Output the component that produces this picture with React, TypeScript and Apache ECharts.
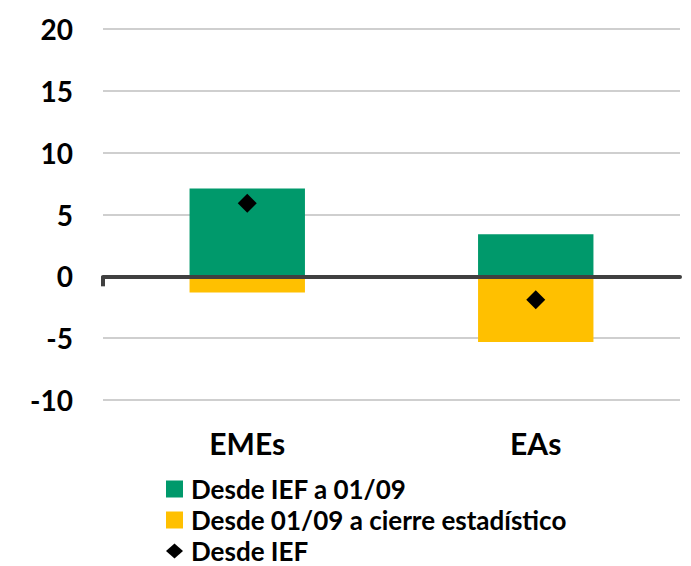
import React, { useEffect, useRef } from "react";
import * as echarts from "echarts";

const categories = ["EMEs", "EAs"];
const sinceIEFto0109 = [7.1, 3.4];
const since0109toClose = [-1.3, -5.3];
const sinceIEF = [5.9, -1.9];
const yTicks = { min: -10, max: 20, interval: 5 };
const legendNames = ["Desde IEF a 01/09", "Desde 01/09 a cierre estadístico", "Desde IEF"];

const FONT = "Lato, 'Open Sans', sans-serif";
const legendText = { color: "#000", fontWeight: "bold", fontSize: 26, fontFamily: FONT, padding: [0, 0, 0, 3] };
const GRID_LEFT = 103;

export default function App() {
  const ref = useRef<HTMLDivElement>(null);
  useEffect(() => {
    if (!ref.current) return;
    const chart = echarts.init(ref.current, null, { renderer: "svg" });
    chart.setOption({
      animation: false,
      textStyle: { fontFamily: FONT },
      grid: { left: GRID_LEFT, right: 11, top: 29, bottom: 166 },
      xAxis: [
        {
          type: "category",
          data: categories,
          position: "bottom",
          axisLine: { show: false, onZero: false },
          axisTick: { show: false },
          axisLabel: {
            color: "#000",
            fontWeight: "bold",
            fontSize: 30,
            fontFamily: FONT,
            margin: 28,
          },
        },
        {
          type: "category",
          data: categories,
          position: "bottom",
          axisLine: { show: true, onZero: true, lineStyle: { color: "#404040", width: 4 } },
          axisTick: { show: false },
          axisLabel: { show: false },
          z: 10,
        },
      ],
      yAxis: {
        type: "value",
        min: yTicks.min,
        max: yTicks.max,
        interval: yTicks.interval,
        axisLine: { show: false },
        axisTick: { show: false },
        splitLine: { lineStyle: { color: "#BFBFBF", width: 1.5 } },
        axisLabel: {
          color: "#000",
          fontWeight: "bold",
          fontSize: 28,
          fontFamily: FONT,
          margin: 30,
        },
      },
      legend: [
        {
          left: 161,
          top: 471,
          itemWidth: 17,
          itemHeight: 17,
          textStyle: legendText,
          data: [{ name: legendNames[0], icon: "rect" }],
        },
        {
          left: 161,
          top: 502,
          itemWidth: 17,
          itemHeight: 17,
          textStyle: legendText,
          data: [{ name: legendNames[1], icon: "rect" }],
        },
        {
          left: 161,
          top: 533,
          itemWidth: 17,
          itemHeight: 15,
          textStyle: legendText,
          data: [{ name: legendNames[2], icon: "diamond" }],
        },
      ],
      series: [
        {
          name: legendNames[0],
          type: "bar",
          stack: "s",
          data: sinceIEFto0109,
          barWidth: "40%",
          itemStyle: { color: "#00996B" },
        },
        {
          name: legendNames[1],
          type: "bar",
          stack: "s",
          data: since0109toClose,
          barWidth: "40%",
          itemStyle: { color: "#FFC000" },
        },
        {
          name: legendNames[2],
          type: "scatter",
          data: sinceIEF,
          symbol: "diamond",
          symbolSize: 19,
          itemStyle: { color: "#000", opacity: 1 },
          z: 5,
        },
      ],
    });
    const zeroY = chart.convertToPixel({ yAxisIndex: 0 }, 0) as number;
    chart.setOption({
      graphic: [
        {
          type: "line",
          shape: { x1: GRID_LEFT, y1: zeroY, x2: GRID_LEFT, y2: zeroY + 10 },
          style: { stroke: "#404040", lineWidth: 4 },
          z: 10,
        },
      ],
    });
    return () => chart.dispose();
  }, []);
  return (
    <div
      ref={ref}
      style={{ position: "fixed", left: 0, top: 0, width: 691, height: 566, background: "#fff" }}
    />
  );
}
